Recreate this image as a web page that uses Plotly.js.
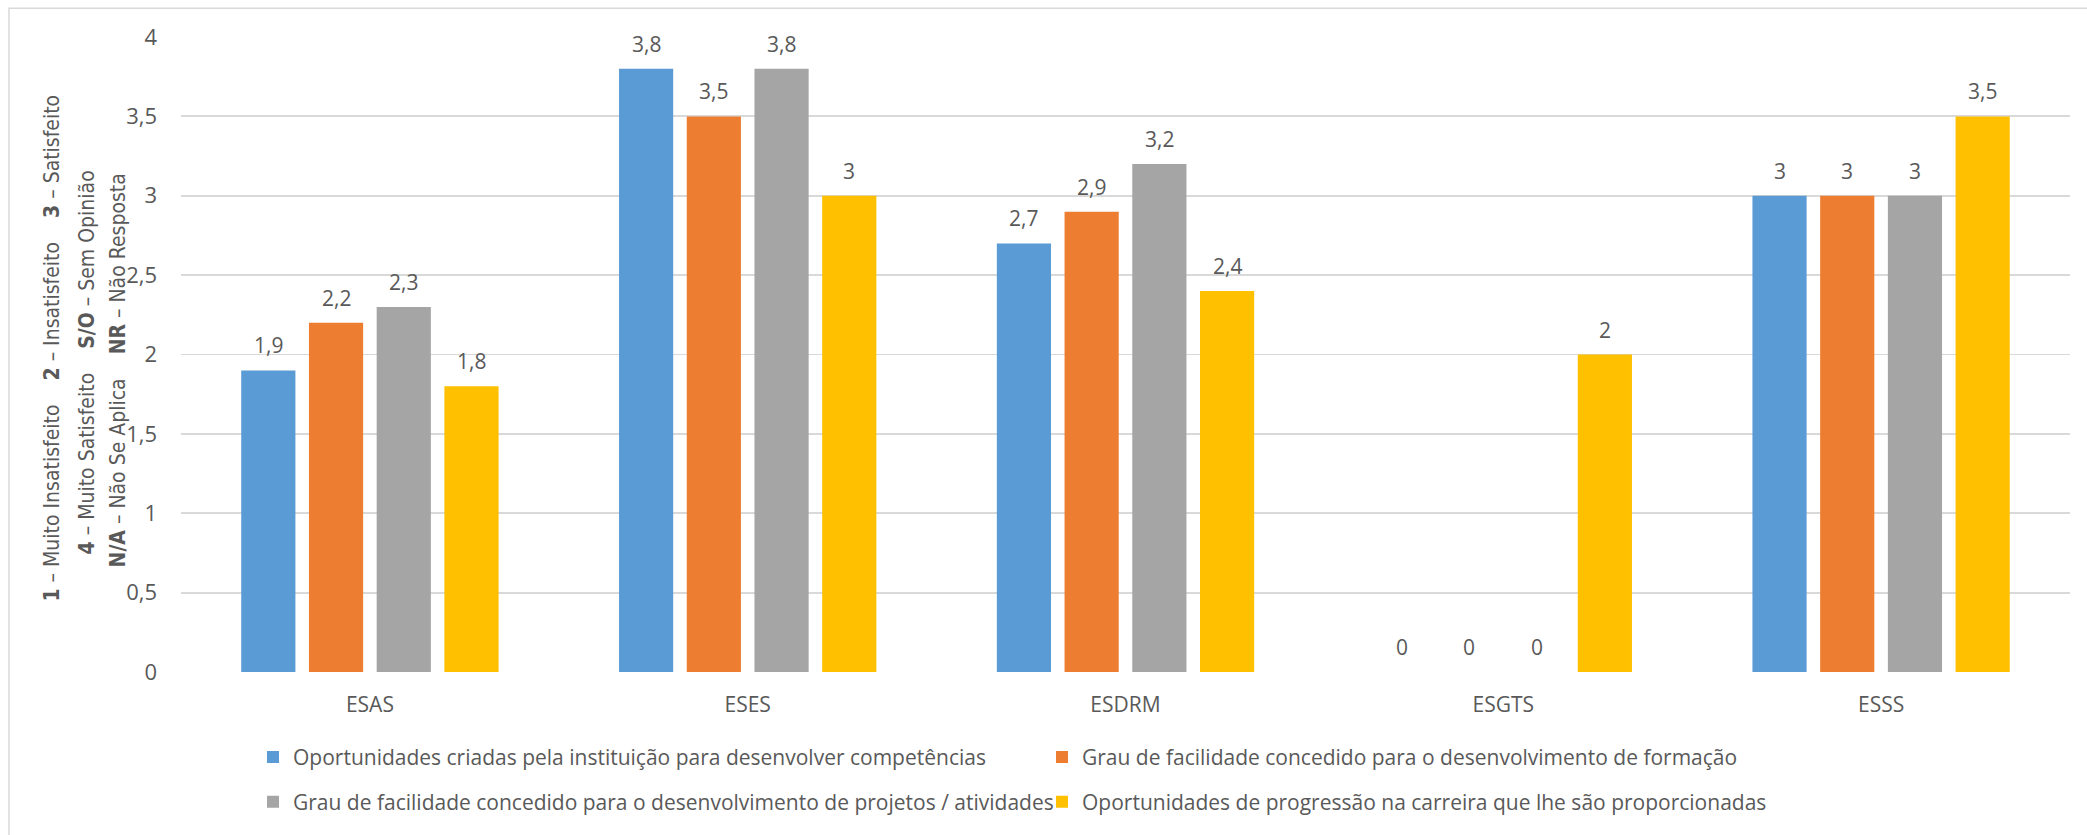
<!DOCTYPE html>
<html><head><meta charset="utf-8">
<script src="https://cdn.plot.ly/plotly-3.0.1.min.js"></script>
<style>html,body{margin:0;padding:0;background:#fff;} #chart{width:2087px;height:835px;}</style>
</head><body><div id="chart"></div>
<script>
// ---- data ----
const categories = ['ESAS', 'ESES', 'ESDRM', 'ESGTS', 'ESSS'];
const seriesNames = [
  'Oportunidades criadas pela instituição para desenvolver competências',
  'Grau de facilidade concedido para o desenvolvimento de formação',
  'Grau de facilidade concedido para o desenvolvimento de projetos / atividades',
  'Oportunidades de progressão na carreira que lhe são proporcionadas'
];
const oportunidadesCompetencias = [1.9, 3.8, 2.7, 0, 3];
const facilidadeFormacao = [2.2, 3.5, 2.9, 0, 3];
const facilidadeProjetos = [2.3, 3.8, 3.2, 0, 3];
const progressaoCarreira = [1.8, 3.0, 2.4, 2, 3.5];
const yTitleLines = [
  '<b>1</b> – Muito Insatisfeito\u00A0\u00A0\u00A0\u00A0<b>2</b> – Insatisfeito\u00A0\u00A0\u00A0\u00A0<b>3</b> – Satisfeito',
  '<b>4</b> – Muito Satisfeito\u00A0\u00A0\u00A0\u00A0<b>S/O</b> – Sem Opinião',
  '<b>N/A</b> – Não Se Aplica\u00A0\u00A0\u00A0\u00A0<b>NR</b> – Não Resposta'
];

// ---- style ----
const seriesValues = [oportunidadesCompetencias, facilidadeFormacao, facilidadeProjetos, progressaoCarreira];
const colors = ['#5B9BD5', '#ED7D31', '#A5A5A5', '#FFC000'];
const W = 2087, H = 835, L = 181, R = 17, T = 37, B = 158;
const plotW = W - L - R, plotH = H - T - B;
const bargap = 0.283, bargroupgap = 0.2;
const slot = plotW / categories.length * (1 - bargap) / seriesValues.length;
const txt = '#595959';
const px2x = p => (p - L) / plotW;
const py2y = p => (H - B - p) / plotH;
const fmt = v => String(v).replace('.', ',');

const traces = seriesValues.map((vals, i) => ({
  type: 'bar', x: categories, y: vals, name: seriesNames[i],
  marker: {color: colors[i]},
  legend: i < 2 ? 'legend' : 'legend2',
  hoverinfo: 'skip'
}));

const annotations = [];
seriesValues.forEach((vals, i) => {
  vals.forEach((v, j) => {
    annotations.push({
      x: categories[j], y: v, xref: 'x', yref: 'y',
      xshift: (i - (seriesValues.length - 1) / 2) * slot,
      yshift: 25,
      text: fmt(v), showarrow: false,
      font: {family: 'Open Sans', size: 21, color: txt},
      xanchor: 'center', yanchor: 'middle'
    });
  });
});
const titleX = [52, 87, 118], titleY = [351, 365, 373];
yTitleLines.forEach((t, k) => {
  annotations.push({
    xref: 'paper', yref: 'paper', x: px2x(titleX[k]), y: py2y(titleY[k]),
    text: t, textangle: -90, showarrow: false,
    xanchor: 'center', yanchor: 'middle',
    font: {family: 'Liberation Sans Narrow, DejaVu Sans Condensed, Open Sans', size: 21, color: txt}
  });
});

const legendCommon = {
  orientation: 'h', xanchor: 'left', yanchor: 'middle',
  font: {family: 'Open Sans', size: 21, color: txt},
  entrywidth: 744, entrywidthmode: 'pixels',
  bgcolor: 'rgba(0,0,0,0)'
};

const layout = {
  width: W, height: H,
  margin: {l: L, r: R, t: T, b: B},
  paper_bgcolor: '#fff', plot_bgcolor: '#fff',
  font: {family: 'Open Sans', color: txt},
  separators: ', ',
  barmode: 'group', bargap: bargap, bargroupgap: bargroupgap,
  showlegend: true,
  legend: Object.assign({x: px2x(253), y: py2y(763)}, legendCommon),
  legend2: Object.assign({x: px2x(253), y: py2y(808)}, legendCommon),
  xaxis: {
    type: 'category', showgrid: false, showline: false, zeroline: false,
    ticks: '', tickfont: {family: 'Open Sans', size: 21, color: txt},
    ticklabelstandoff: 18, fixedrange: true
  },
  yaxis: {
    range: [0, 4], dtick: 0.5, tick0: 0, showgrid: true, gridcolor: '#D9D9D9', gridwidth: 1.8,
    zeroline: false, showline: false, ticks: '',
    tickfont: {family: 'Open Sans', size: 22, color: txt},
    ticklabelstandoff: 23, fixedrange: true
  },
  annotations: annotations,
  shapes: [{
    type: 'rect', xref: 'paper', yref: 'paper',
    x0: px2x(9), x1: px2x(2100), y0: py2y(850), y1: py2y(8),
    line: {color: '#D9D9D9', width: 1.5}, fillcolor: 'rgba(0,0,0,0)', layer: 'below'
  }]
};

Plotly.newPlot('chart', traces, layout, {displayModeBar: false, staticPlot: true});
</script>
</body></html>
